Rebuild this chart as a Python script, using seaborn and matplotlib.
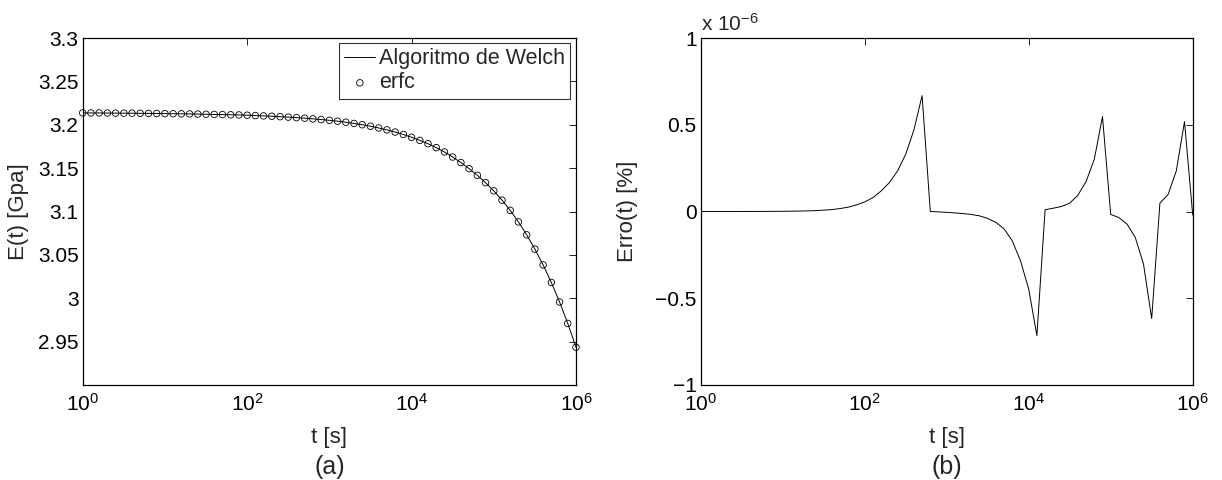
import matplotlib
matplotlib.use("Agg")
import matplotlib.pyplot as plt
import numpy as np
import pandas as pd
import seaborn as sns

sns.set_style("white")
plt.rcParams["font.family"] = ["Liberation Sans", "DejaVu Sans"]
plt.rcParams["mathtext.fontset"] = "custom"
plt.rcParams["mathtext.rm"] = "Liberation Sans"
plt.rcParams["mathtext.it"] = "Liberation Sans:italic"
plt.rcParams["mathtext.bf"] = "Liberation Sans:bold"

# ---- data -------------------------------------------------------------
# time exponents (t = 10**exp), 10 points per decade
t_exp = [0.0, 0.1, 0.2, 0.3, 0.4, 0.5, 0.6, 0.7, 0.8, 0.9,
         1.0, 1.1, 1.2, 1.3, 1.4, 1.5, 1.6, 1.7, 1.8, 1.9,
         2.0, 2.1, 2.2, 2.3, 2.4, 2.5, 2.6, 2.7, 2.8, 2.9,
         3.0, 3.1, 3.2, 3.3, 3.4, 3.5, 3.6, 3.7, 3.8, 3.9,
         4.0, 4.1, 4.2, 4.3, 4.4, 4.5, 4.6, 4.7, 4.8, 4.9,
         5.0, 5.1, 5.2, 5.3, 5.4, 5.5, 5.6, 5.7, 5.8, 5.9, 6.0]

# relaxation modulus E(t) [GPa]
E_vals = [3.2137, 3.2136, 3.2136, 3.2135, 3.2134, 3.2133, 3.2133, 3.2132, 3.2131, 3.2130,
          3.2128, 3.2127, 3.2126, 3.2125, 3.2123, 3.2121, 3.2119, 3.2117, 3.2115, 3.2113,
          3.2110, 3.2106, 3.2102, 3.2098, 3.2093, 3.2088, 3.2082, 3.2076, 3.2068, 3.2060,
          3.2051, 3.2041, 3.2029, 3.2015, 3.2000, 3.1983, 3.1963, 3.1941, 3.1916, 3.1888,
          3.1856, 3.1820, 3.1781, 3.1736, 3.1686, 3.1628, 3.1564, 3.1494, 3.1417, 3.1332,
          3.1238, 3.1131, 3.1013, 3.0880, 3.0731, 3.0567, 3.0384, 3.0182, 2.9957, 2.9710,
          2.9435]

# error (x 1e-6 %)
err_e6 = [0.0, 0.0, 0.0001, 0.0001, 0.0002, 0.0002, 0.0003, 0.0004, 0.0006, 0.0008,
          0.0012, 0.0017, 0.0025, 0.0035, 0.005, 0.008, 0.011, 0.017, 0.025, 0.038,
          0.055, 0.080, 0.118, 0.166, 0.233, 0.33, 0.47, 0.668,
          0.0, -0.002, -0.005, -0.008, -0.012, -0.017, -0.025, -0.040, -0.063, -0.100,
          -0.169, -0.284, -0.447, -0.715,
          0.010, 0.019, 0.029, 0.048, 0.094, 0.173, 0.301, 0.547,
          -0.017, -0.035, -0.073, -0.150, -0.303, -0.617,
          0.048, 0.098, 0.234, 0.518, -0.02]

E_ticks = [2.95, 3.0, 3.05, 3.1, 3.15, 3.2, 3.25, 3.3]
E_ticklabels = ["2.95", "3", "3.05", "3.1", "3.15", "3.2", "3.25", "3.3"]
err_ticks = [-1, -0.5, 0, 0.5, 1]
err_ticklabels = ["\u22121", "\u22120.5", "0", "0.5", "1"]
x_ticks = [1, 100, 1e4, 1e6]
x_ticklabels = [r"$10^{0}$", r"$10^{2}$", r"$10^{4}$", r"$10^{6}$"]

t_vals = [10 ** e for e in t_exp]
df = pd.DataFrame({"t": t_vals, "E": E_vals, "err": err_e6})

# ---- figure -----------------------------------------------------------
W, H = 1222, 480
fig = plt.figure(figsize=(W / 100, H / 100), dpi=100)
ax1 = fig.add_axes([82.7 / W, (H - 385) / H, (576 - 82.7) / W, (385 - 38) / H])
ax2 = fig.add_axes([700.7 / W, (H - 385) / H, (1192.7 - 700.7) / W, (385 - 38) / H])

sns.lineplot(data=df, x="t", y="E", ax=ax1, color="black", lw=0.7,
             label="Algoritmo de Welch")
sns.scatterplot(data=df, x="t", y="E", ax=ax1, marker="o", s=22,
                facecolors="none", edgecolor="black", linewidth=0.6,
                label="erfc", zorder=3, clip_on=False)
sns.lineplot(data=df, x="t", y="err", ax=ax2, color="black", lw=0.7)

for ax in (ax1, ax2):
    ax.set_xscale("log")
    ax.set_xlim(1, 1e6)
    ax.set_xticks(x_ticks)
    ax.set_xticklabels(x_ticklabels)
    ax.xaxis.set_minor_locator(matplotlib.ticker.NullLocator())
    ax.tick_params(direction="in", length=5, width=0.6, top=True, right=True,
                   labelsize=15, colors="black")
    ax.tick_params(axis="x", pad=6)
    ax.tick_params(axis="y", pad=3)
    for sp in ax.spines.values():
        sp.set_visible(True)
        sp.set_color("black")
        sp.set_linewidth(0.9)
    ax.grid(False)

ax1.set_ylim(2.9, 3.3)
ax1.set_yticks(E_ticks)
ax1.set_yticklabels(E_ticklabels)
ax2.set_ylim(-1, 1)
ax2.set_yticks(err_ticks)
ax2.set_yticklabels(err_ticklabels)

ax1.set_xlabel("t [s]", fontsize=16)
ax2.set_xlabel("t [s]", fontsize=16)
ax1.set_ylabel("E(t) [Gpa]", fontsize=16)
ax2.set_ylabel("Erro(t) [%]", fontsize=16)
for ax in (ax1, ax2):
    ax.xaxis.label.set_va("center")
    ax.xaxis.set_label_coords(0.5, (385 - 438) / 347)
ax1.yaxis.label.set_va("center")
ax2.yaxis.label.set_va("center")
ax1.yaxis.set_label_coords((19 - 82.7) / 493, 0.5)
ax2.yaxis.set_label_coords((628 - 700.7) / 492, 0.5)

ax1.text(0.5, (385 - 467) / 347, "(a)", transform=ax1.transAxes,
         ha="center", va="center", fontsize=18)
ax2.text(0.5, (385 - 467) / 347, "(b)", transform=ax2.transAxes,
         ha="center", va="center", fontsize=18)
ax2.text(0.0, 1.01, r"x $10^{-6}$", transform=ax2.transAxes,
         ha="left", va="bottom", fontsize=15)

leg = ax1.legend(loc="upper right", bbox_to_anchor=(0.988, 0.986),
                 borderaxespad=0, frameon=True, fancybox=False,
                 edgecolor="black", fontsize=15.5, handlelength=1.45,
                 handletextpad=0.15, labelspacing=0.15, borderpad=0.25,
                 scatterpoints=1)
leg.get_frame().set_linewidth(0.8)

fig.savefig("out.png", dpi=100, facecolor="white")
